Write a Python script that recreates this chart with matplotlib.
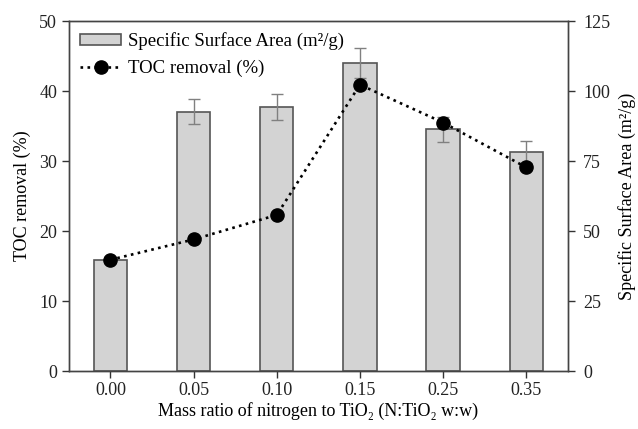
import numpy as np
import matplotlib.pyplot as plt

plt.rcParams['font.family'] = ['Liberation Serif', 'DejaVu Serif']
plt.rcParams['mathtext.fontset'] = 'stix'

# Data
ratios = ['0.00', '0.05', '0.10', '0.15', '0.25', '0.35']
ssa = [39.7, 92.6, 94.2, 110.1, 86.3, 78.1]        # m2/g (right axis)
ssa_err = [0.0, 4.5, 4.7, 5.4, 4.5, 3.9]
toc = [15.9, 18.8, 22.3, 40.9, 35.5, 29.1]          # % (left axis)

x = np.arange(len(ratios))

fig = plt.figure(figsize=(6.38, 4.29), dpi=100)
ax1 = fig.add_axes([0.108, 0.135, 0.782, 0.816])
ax2 = ax1.twinx()

edge = '#555555'
fs = 13

# Bars: specific surface area on right axis
ax2.bar(x, ssa, width=0.4, color='#d3d3d3', edgecolor=edge, linewidth=1.2,
        label='Specific Surface Area (m\u00b2/g)')
ax2.errorbar(x, ssa, yerr=ssa_err, fmt='none', ecolor='#808080',
             elinewidth=1, capsize=4, capthick=1)
ax2.set_ylim(0, 125)
ax2.set_yticks([0, 25, 50, 75, 100, 125])
ax2.set_ylabel('Specific Surface Area (m\u00b2/g)', fontsize=fs, labelpad=6)

# Line: TOC removal on left axis
ax1.plot(x, toc, linestyle=':', color='black', linewidth=1.9, marker='o',
         markersize=9.5, label='TOC removal (%)')
ax1.set_ylim(0, 50)
ax1.set_yticks([0, 10, 20, 30, 40, 50])
ax1.set_xlim(-0.5, 5.5)
ax1.set_xticks(x)
ax1.set_xticklabels(ratios)
ax1.set_ylabel('TOC removal (%)', fontsize=fs, labelpad=6)
ax1.set_xlabel('Mass ratio of nitrogen to TiO\u2082 (N:TiO\u2082 w:w)', fontsize=fs,
               labelpad=2)

# line above bars
ax1.set_zorder(ax2.get_zorder() + 1)
ax1.patch.set_visible(False)

for ax in (ax1, ax2):
    ax.tick_params(direction='out', length=5, width=1, colors='#333333',
                   labelsize=13, labelcolor='#222222')
    for s in ax.spines.values():
        s.set_color('#444444')
        s.set_linewidth(1)
ax1.tick_params(axis='x', pad=3)
ax2.tick_params(axis='y', pad=6)

h1, l1 = ax2.get_legend_handles_labels()
h2, l2 = ax1.get_legend_handles_labels()
ax1.legend(h1 + h2, l1 + l2, loc='upper left', frameon=False, fontsize=13.5,
           handlelength=2.2, handleheight=0.6, borderaxespad=0.2,
           handletextpad=0.35, labelspacing=0.5)

fig.savefig('out.png', dpi=100)
